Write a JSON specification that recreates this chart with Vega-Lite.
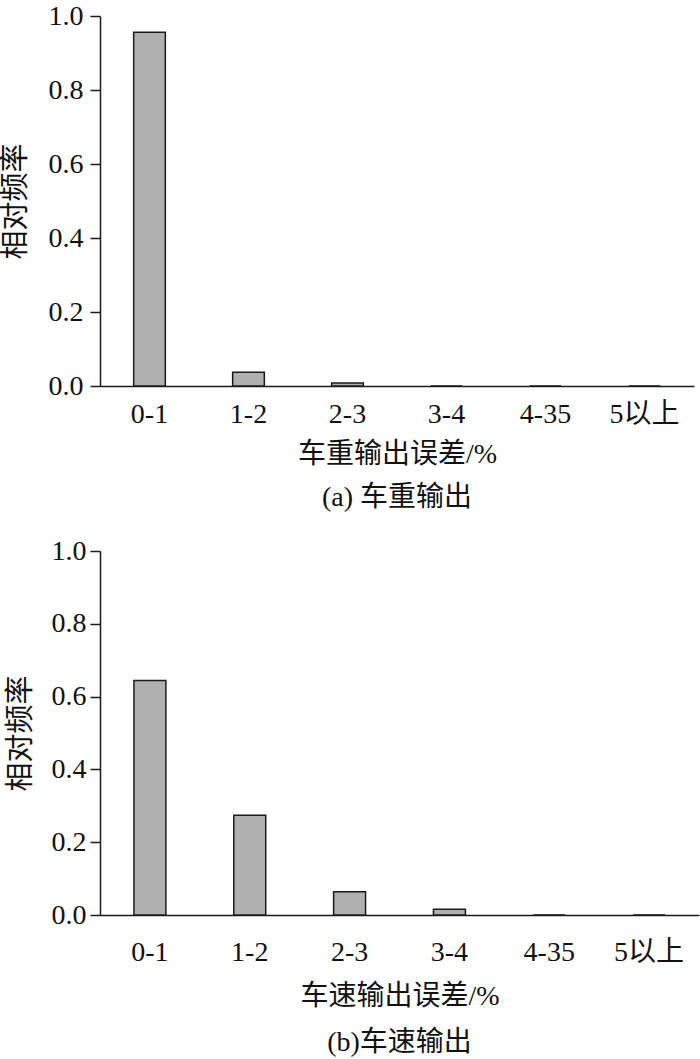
{
  "$schema": "https://vega.github.io/schema/vega-lite/v6.json",
  "background": "white",
  "padding": {"left": 1, "top": 2, "right": 3, "bottom": 2},
  "spacing": 25,
  "config": {
    "font": "Liberation Serif, Noto Sans CJK SC",
    "view": {"stroke": null},
    "axis": {
      "grid": false,
      "domainColor": "#1a1a1a",
      "domainWidth": 1.5,
      "tickColor": "#1a1a1a",
      "tickWidth": 1.5,
      "labelFont": "Liberation Serif, Noto Sans CJK SC",
      "labelFontSize": 28,
      "labelColor": "#111111",
      "titleFont": "Liberation Serif, Noto Sans CJK SC",
      "titleFontSize": 28,
      "titleFontWeight": "normal",
      "titleColor": "#111111"
    },
    "title": {
      "font": "Liberation Serif, Noto Sans CJK SC",
      "fontSize": 28,
      "fontWeight": "normal",
      "color": "#111111"
    }
  },
  "vconcat": [
    {
      "width": 594,
      "height": 370,
      "title": {"text": "(a) 车重输出", "orient": "bottom", "offset": 16},
      "data": {
        "values": [
          {"range": "0-1", "freq": 0.956},
          {"range": "1-2", "freq": 0.037},
          {"range": "2-3", "freq": 0.008},
          {"range": "3-4", "freq": 0},
          {"range": "4-35", "freq": 0},
          {"range": "5以上", "freq": 0}
        ]
      },
      "mark": {"type": "bar", "fill": "#b0b0b0", "stroke": "#1a1a1a", "strokeWidth": 1.5},
      "encoding": {
        "x": {
          "field": "range", "type": "nominal", "sort": null,
          "scale": {"paddingInner": 0.68, "paddingOuter": 0.34},
          "axis": {"title": "车重输出误差/%", "labelAngle": 0, "ticks": false, "labelPadding": 14, "titlePadding": 12}
        },
        "y": {
          "field": "freq", "type": "quantitative",
          "scale": {"domain": [0, 1]},
          "axis": {
            "title": "相对频率", "titleFontSize": 29,
            "values": [0, 0.2, 0.4, 0.6, 0.8, 1], "format": ".1f",
            "ticks": true, "tickSize": 10, "labelPadding": 7, "titlePadding": 18
          }
        }
      }
    },
    {
      "width": 599,
      "height": 364,
      "title": {"text": "(b)车速输出", "orient": "bottom", "offset": 19},
      "data": {
        "values": [
          {"range": "0-1", "freq": 0.644},
          {"range": "1-2", "freq": 0.274},
          {"range": "2-3", "freq": 0.064},
          {"range": "3-4", "freq": 0.016},
          {"range": "4-35", "freq": 0},
          {"range": "5以上", "freq": 0}
        ]
      },
      "mark": {"type": "bar", "fill": "#b0b0b0", "stroke": "#1a1a1a", "strokeWidth": 1.5},
      "encoding": {
        "x": {
          "field": "range", "type": "nominal", "sort": null,
          "scale": {"paddingInner": 0.68, "paddingOuter": 0.34},
          "axis": {"title": "车速输出误差/%", "labelAngle": 0, "ticks": false, "labelPadding": 23, "titlePadding": 16}
        },
        "y": {
          "field": "freq", "type": "quantitative",
          "scale": {"domain": [0, 1]},
          "axis": {
            "title": "相对频率", "titleFontSize": 29,
            "values": [0, 0.2, 0.4, 0.6, 0.8, 1], "format": ".1f",
            "ticks": true, "tickSize": 10, "labelPadding": 4, "titlePadding": 16
          }
        }
      }
    }
  ]
}
